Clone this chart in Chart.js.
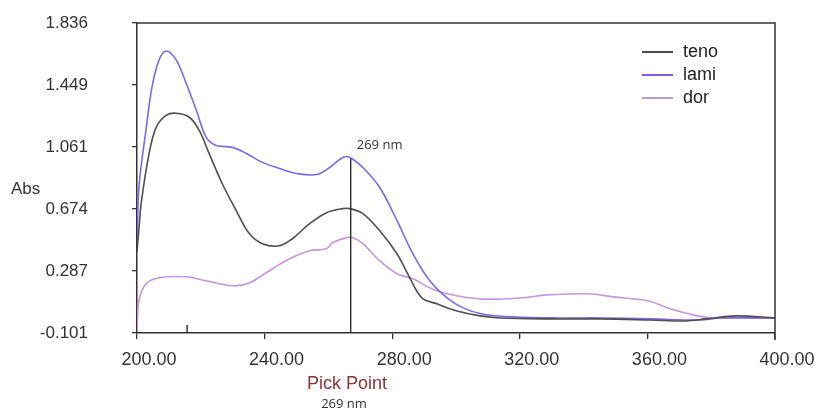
<!DOCTYPE html>
<html>
<head>
<meta charset="utf-8">
<script src="https://cdn.jsdelivr.net/npm/chart.js@4.4.1/dist/chart.umd.min.js"></script>
<style>
  html, body { margin: 0; padding: 0; background: #fff; }
  #wrap { width: 818px; height: 410px; }
</style>
</head>
<body>
<div id="wrap"><canvas id="spectrum"></canvas></div>
<script>
// ------------- spectrum data (nm / Abs) -------------
var seriesNames = ['teno', 'lami', 'dor'];

var tenoNm  = [200, 200.6, 201.3, 203.8, 206, 209.1, 212.3, 216.4, 219.5, 222.6, 226.7, 231.1, 235.2, 239.3, 244.7, 248.7, 254.1, 259.4, 264.5, 266.7, 270.8, 276.1, 281.5, 285.5, 289.3, 294, 300.3, 307.6, 313.8, 329.6, 345.3, 361, 372, 378.3, 387.8, 400];
var tenoAbs = [0.41, 0.55, 0.708, 1.021, 1.184, 1.259, 1.272, 1.247, 1.165, 1.021, 0.833, 0.664, 0.52, 0.457, 0.444, 0.488, 0.582, 0.651, 0.676, 0.676, 0.645, 0.538, 0.394, 0.244, 0.118, 0.081, 0.037, 0.006, -0.007, -0.013, -0.013, -0.02, -0.026, -0.013, 0.006, -0.007];

var lamiNm  = [200, 200.6, 202.8, 204.7, 206.9, 209.1, 212.3, 215.4, 218.6, 221.7, 224.8, 229.9, 234.3, 239.3, 244.7, 250, 256.3, 260.4, 264.5, 266.7, 270.8, 276.1, 281.5, 286.5, 291.8, 297.2, 302.2, 308.2, 318.6, 332.7, 345.3, 361, 376.7, 383, 400];
var lamiAbs = [0.4, 0.808, 1.165, 1.435, 1.604, 1.661, 1.604, 1.46, 1.291, 1.121, 1.071, 1.059, 1.021, 0.965, 0.927, 0.896, 0.889, 0.933, 0.996, 0.996, 0.933, 0.808, 0.601, 0.394, 0.225, 0.118, 0.056, 0.018, -0.001, -0.007, -0.007, -0.013, -0.02, -0.007, -0.007];

var dorNm  = [200, 200.6, 202.8, 206.9, 215.4, 221.7, 229.9, 235.2, 241.5, 247.8, 254.1, 259.4, 261.3, 265.7, 267.6, 270.8, 276.1, 281.5, 286.5, 291.8, 297.2, 307.6, 320.1, 328.6, 341.2, 349.4, 360.1, 367.3, 375.8, 380.8, 400];
var dorAbs = [-0.09, 0.1, 0.206, 0.244, 0.25, 0.225, 0.194, 0.212, 0.288, 0.363, 0.413, 0.426, 0.463, 0.495, 0.495, 0.457, 0.35, 0.269, 0.238, 0.181, 0.144, 0.112, 0.118, 0.137, 0.144, 0.125, 0.1, 0.049, 0.006, -0.007, -0.007];

var yTickValues = [-0.101, 0.287, 0.674, 1.061, 1.449, 1.836];
var xTickStep = 40;

// pick point marker
var pickNm = 267;
var pickAbs = 0.99;
var pickLabel = '269 nm';
var extraTickNm = 215.7;

var lineColors = ['#4f4f4f', '#7f66ee', '#c596dc'];
var legendColors = ['#4a4a4a', '#8a58f0', '#b89ccb'];

function pts(xs, ys) {
    return xs.map(function (x, i) { return { x: x, y: ys[i] }; });
}

// ------------- extra drawing: frame, pick line, labels, legend -------------
var decorations = {
    id: 'decorations',
    afterDatasetsDraw: function (chart) {
        var ctx = chart.ctx;
        var a = chart.chartArea;
        var xs = chart.scales.x, ys = chart.scales.y;
        ctx.save();

        // frame
        ctx.strokeStyle = '#333';
        ctx.lineWidth = 1.5;
        ctx.beginPath();
        ctx.moveTo(a.left, a.top);
        ctx.lineTo(a.right, a.top);
        ctx.lineTo(a.right, a.bottom + 7);
        ctx.stroke();

        // small marker tick
        var ex = xs.getPixelForValue(extraTickNm);
        ctx.beginPath();
        ctx.moveTo(ex, a.bottom);
        ctx.lineTo(ex, a.bottom - 8);
        ctx.stroke();

        // pick point line
        var px = xs.getPixelForValue(pickNm);
        ctx.lineWidth = 1.3;
        ctx.strokeStyle = '#222';
        ctx.beginPath();
        ctx.moveTo(px, a.bottom);
        ctx.lineTo(px, ys.getPixelForValue(pickAbs));
        ctx.stroke();

        ctx.fillStyle = '#333';
        ctx.font = '13px "Open Sans"';
        ctx.textBaseline = 'middle';
        ctx.textAlign = 'left';
        ctx.fillText(pickLabel, px + 6, ys.getPixelForValue(pickAbs) - 13);

        // axis title
        ctx.font = '17px "Liberation Sans", Arial';
        ctx.fillStyle = '#333';
        ctx.fillText('Abs', 11, 189);

        // pick point caption
        ctx.textAlign = 'center';
        ctx.fillStyle = '#8e3434';
        ctx.font = '18px "Liberation Sans", Arial';
        ctx.fillText('Pick Point', 347, 384);
        ctx.fillStyle = '#333';
        ctx.font = '13px "Open Sans"';
        ctx.fillText(pickLabel, 344, 404);

        // legend
        ctx.textAlign = 'left';
        ctx.font = '18px "Liberation Sans", Arial';
        seriesNames.forEach(function (name, i) {
            var y = a.top + 29 + i * 23;
            ctx.strokeStyle = legendColors[i];
            ctx.lineWidth = 2;
            ctx.beginPath();
            ctx.moveTo(a.right - 133, y);
            ctx.lineTo(a.right - 102, y);
            ctx.stroke();
            ctx.fillStyle = '#222';
            ctx.fillText(name, a.right - 92, y);
        });
        ctx.restore();
    }
};

Chart.defaults.font.family = '"Liberation Sans", Arial, sans-serif';
Chart.defaults.color = '#333';

var ctx = document.getElementById('spectrum');
var myChart = new Chart(ctx, {
    type: 'line',
    data: {
        datasets: [
            { label: seriesNames[0], data: pts(tenoNm, tenoAbs), borderColor: lineColors[0] },
            { label: seriesNames[1], data: pts(lamiNm, lamiAbs), borderColor: lineColors[1] },
            { label: seriesNames[2], data: pts(dorNm, dorAbs), borderColor: lineColors[2] }
        ]
    },
    options: {
        responsive: true,
        maintainAspectRatio: false,
        animation: false,
        layout: { autoPadding: false, padding: { top: 23, right: 43, left: 0, bottom: 0 } },
        elements: {
            point: { radius: 0 },
            line: { borderWidth: 1.6, tension: 0.35, fill: false }
        },
        plugins: {
            legend: { display: false },
            tooltip: { enabled: false }
        },
        scales: {
            x: {
                type: 'linear',
                min: 200,
                max: 400,
                afterFit: function (s) { s.height = 77; s.paddingTop = 0; s.paddingBottom = 0; },
                border: { display: true, color: '#333', width: 1.5 },
                grid: { display: true, drawOnChartArea: false, drawTicks: true, tickLength: 6, color: '#333', lineWidth: 1.3 },
                ticks: {
                    stepSize: xTickStep,
                    padding: 10,
                    labelOffset: 12,
                    maxRotation: 0,
                    color: '#333',
                    font: { size: 18 },
                    callback: function (v) { return v.toFixed(2); }
                }
            },
            y: {
                min: yTickValues[0],
                max: yTickValues[yTickValues.length - 1],
                afterFit: function (s) { s.width = 137; s.paddingTop = 0; s.paddingBottom = 0; },
                afterBuildTicks: function (s) {
                    s.ticks = yTickValues.map(function (v) { return { value: v }; });
                },
                border: { display: true, color: '#333', width: 1.5 },
                grid: { display: true, drawOnChartArea: false, drawTicks: true, tickLength: 5, color: '#333', lineWidth: 1.3 },
                ticks: {
                    padding: 44,
                    color: '#333',
                    font: { size: 17 },
                    callback: function (v) { return v.toFixed(3); }
                }
            }
        }
    },
    plugins: [decorations]
});
</script>
</body>
</html>
